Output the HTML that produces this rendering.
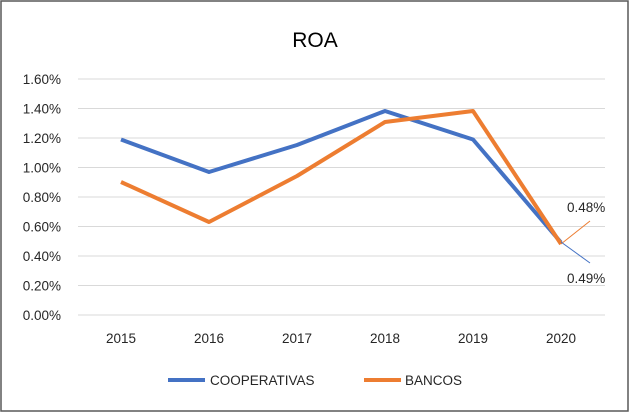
<!DOCTYPE html>
<html><head><meta charset="utf-8"><style>
html,body{margin:0;padding:0;background:#fff;}
svg{display:block;font-family:"Liberation Sans",Arial,sans-serif;}
</style></head><body>
<svg width="630" height="413" viewBox="0 0 630 413">
<rect x="1" y="1" width="627" height="410" fill="#fff" stroke="#595959" stroke-width="1.5"/>
<text x="315" y="47" text-anchor="middle" font-size="21" fill="#000">ROA</text>
<g stroke="#d9d9d9" stroke-width="1">
<line x1="78" x2="605" y1="79" y2="79"/><line x1="78" x2="605" y1="108.5" y2="108.5"/>
<line x1="78" x2="605" y1="138" y2="138"/><line x1="78" x2="605" y1="167.5" y2="167.5"/>
<line x1="78" x2="605" y1="197" y2="197"/><line x1="78" x2="605" y1="226.5" y2="226.5"/>
<line x1="78" x2="605" y1="256" y2="256"/><line x1="78" x2="605" y1="285.5" y2="285.5"/>
<line x1="78" x2="605" y1="315" y2="315"/>
</g>
<g font-size="13.5" fill="#262626" text-anchor="end">
<text x="61" y="84">1.60%</text><text x="61" y="113.5">1.40%</text><text x="61" y="143">1.20%</text>
<text x="61" y="172.5">1.00%</text><text x="61" y="202">0.80%</text><text x="61" y="231.5">0.60%</text>
<text x="61" y="261">0.40%</text><text x="61" y="290.5">0.20%</text><text x="61" y="320">0.00%</text>
</g>
<g font-size="13.5" fill="#262626" text-anchor="middle">
<text x="121" y="343">2015</text><text x="209" y="343">2016</text><text x="297" y="343">2017</text>
<text x="385" y="343">2018</text><text x="473" y="343">2019</text><text x="561" y="343">2020</text>
</g>
<polyline fill="none" stroke="#4472c4" stroke-width="4" stroke-linejoin="round" points="121,139.5 209,172 297,145 385,111 473,139.5 561,242.5"/>
<polyline fill="none" stroke="#ed7d31" stroke-width="4" stroke-linejoin="round" points="121,182 209,222 297,176 385,122 473,111 561,244"/>
<line x1="561" y1="244" x2="590" y2="221" stroke="#ed7d31" stroke-width="1"/>
<line x1="561" y1="242" x2="590" y2="263" stroke="#4472c4" stroke-width="1"/>
<text x="567" y="212" font-size="13.5" fill="#262626">0.48%</text>
<text x="567" y="283" font-size="13.5" fill="#262626">0.49%</text>
<line x1="168" y1="380" x2="205" y2="380" stroke="#4472c4" stroke-width="4"/>
<text x="210" y="385" font-size="13.5" fill="#262626">COOPERATIVAS</text>
<line x1="364" y1="380" x2="401" y2="380" stroke="#ed7d31" stroke-width="4"/>
<text x="405" y="385" font-size="13.5" fill="#262626">BANCOS</text>
</svg>
</body></html>
